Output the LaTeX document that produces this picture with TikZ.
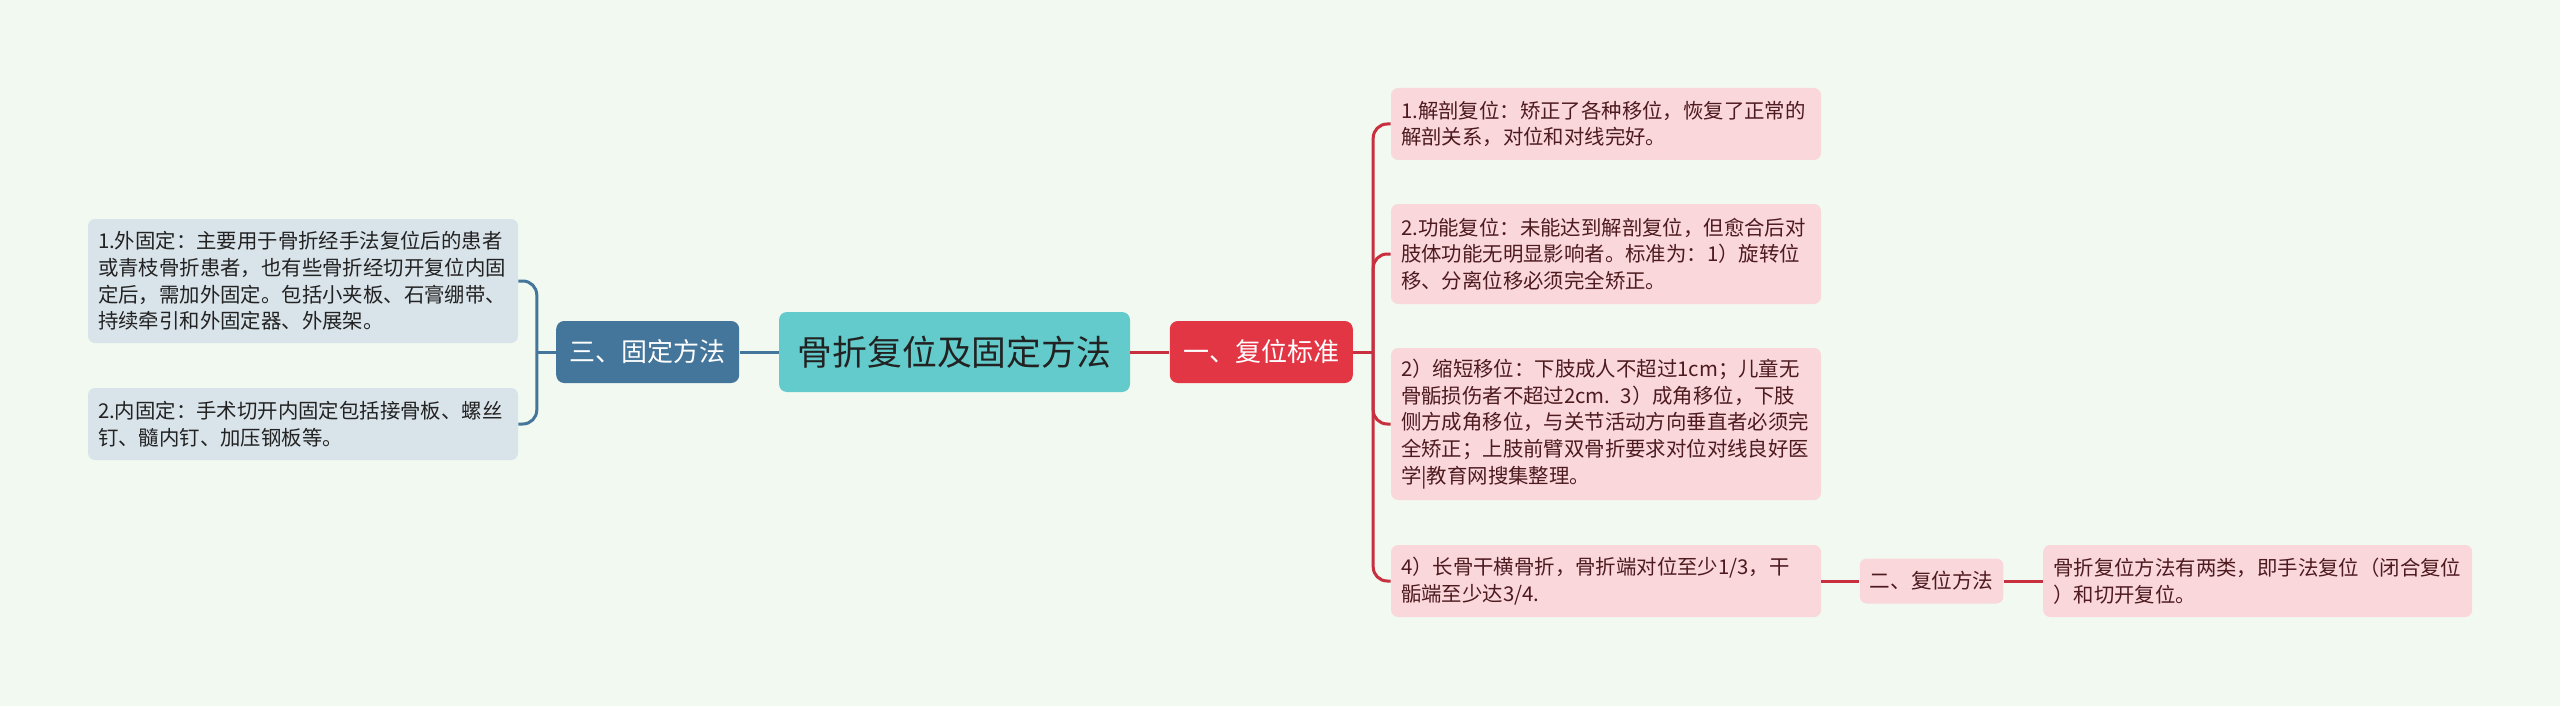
\documentclass[tikz,border=0pt]{standalone}
\usepackage{fontspec}
\setmainfont{Noto Sans CJK SC}
\usepackage{tikz}
\usetikzlibrary{positioning}
\definecolor{mapbg}{HTML}{F1F9F0}
\definecolor{rootteal}{HTML}{63CBCB}
\definecolor{fixblue}{HTML}{44769B}
\definecolor{stdred}{HTML}{E33645}
\definecolor{linered}{HTML}{C8303F}
\definecolor{leafblue}{HTML}{D9E3EA}
\definecolor{leafpink}{HTML}{FAD7DB}
\definecolor{inkdark}{HTML}{222222}
\definecolor{inkred}{HTML}{4D1A1F}

\begin{document}
\begin{tikzpicture}[x=0.5pt,y=-0.5pt,node distance=19.5pt]

\tikzset{
root/.style={
    fill=rootteal,
    rounded corners=4pt,
    minimum width=175.5pt,
    minimum height=40pt,
    text=inkdark,
    font=\fontsize{17.4}{21}\selectfont
},
topic/.style={
    rounded corners=4pt,
    minimum width=91.5pt,
    minimum height=31pt,
    text=white,
    font=\fontsize{13}{16}\selectfont
},
leaf/.style={
    rounded corners=3.5pt,
    inner xsep=5pt,
    text width=205pt,
    align=left,
    font=\fontsize{10.2}{13.35}\selectfont
},
lleaf/.style={leaf,fill=leafblue,text=inkdark},
rleaf/.style={leaf,fill=leafpink,text=inkred},
lbranch/.style={line width=1.5pt,draw=fixblue,rounded corners=7pt},
rbranch/.style={line width=1.5pt,draw=linered,rounded corners=7pt}
}

\path[fill=mapbg,use as bounding box] (0,0) rectangle (2560,706);

\node[root] (root) at (954.5,352) {骨折复位及固定方法};
\node[topic,fill=fixblue,left=of root] (fix) {三、固定方法};
\node[topic,fill=stdred,right=of root] (std) {一、复位标准};

% fixing methods
\node[lleaf,minimum height=62pt] (l1) at (303,281)
{1.外固定：主要用于骨折经手法复位后的患者\\或青枝骨折患者，也有些骨折经切开复位内固\\定后，需加外固定。包括小夹板、石膏绷带、\\持续牵引和外固定器、外展架。};
\node[lleaf,minimum height=36pt] (l2) at (303,424)
{2.内固定：手术切开内固定包括接骨板、螺丝\\钉、髓内钉、加压钢板等。};

% reduction standard
\node[rleaf,minimum height=36pt] (r1) at (1606,124)
{1.解剖复位：矫正了各种移位，恢复了正常的\\解剖关系，对位和对线完好。};
\node[rleaf,minimum height=50pt] (r2) at (1606,254)
{2.功能复位：未能达到解剖复位，但愈合后对\\肢体功能无明显影响者。标准为：1）旋转位\\移、分离位移必须完全矫正。};
\node[rleaf,minimum height=76pt] (r3) at (1606,424)
{2）缩短移位：下肢成人不超过1cm；儿童无\\骨骺损伤者不超过2cm. 3）成角移位，下肢\\侧方成角移位，与关节活动方向垂直者必须完\\全矫正；上肢前臂双骨折要求对位对线良好医\\学|教育网搜集整理。};
\node[rleaf,minimum height=36pt] (r4) at (1606,581)
{4）长骨干横骨折，骨折端对位至少1/3，干\\骺端至少达3/4.};

\node[rleaf,text width=,align=center,minimum width=71.5pt,minimum height=22.5pt,
    font=\fontsize{10.3}{13}\selectfont,right=19pt of r4] (two) {二、复位方法};
\node[rleaf,text width=204.5pt,minimum height=36pt,right=19.5pt of two] (way)
{骨折复位方法有两类，即手法复位（闭合复位\\）和切开复位。};

\coordinate (lbus) at ([xshift=-9.5pt]fix.west);
\coordinate (rbus) at ([xshift=10pt]std.east);

\draw[lbranch] (root) -- (fix);
\draw[lbranch] (fix) -- (lbus);
\draw[lbranch] (l1.east) -| (lbus);
\draw[lbranch] (l2.east) -| (lbus);

\draw[rbranch] (root) -- (std);
\draw[rbranch] (std) -- (rbus);
\foreach \r in {r1,r2,r3,r4}
    \draw[rbranch] (\r.west) -| (rbus);
\draw[rbranch] (r4) -- (two);
\draw[rbranch] (two) -- (way);

\end{tikzpicture}
\end{document}
